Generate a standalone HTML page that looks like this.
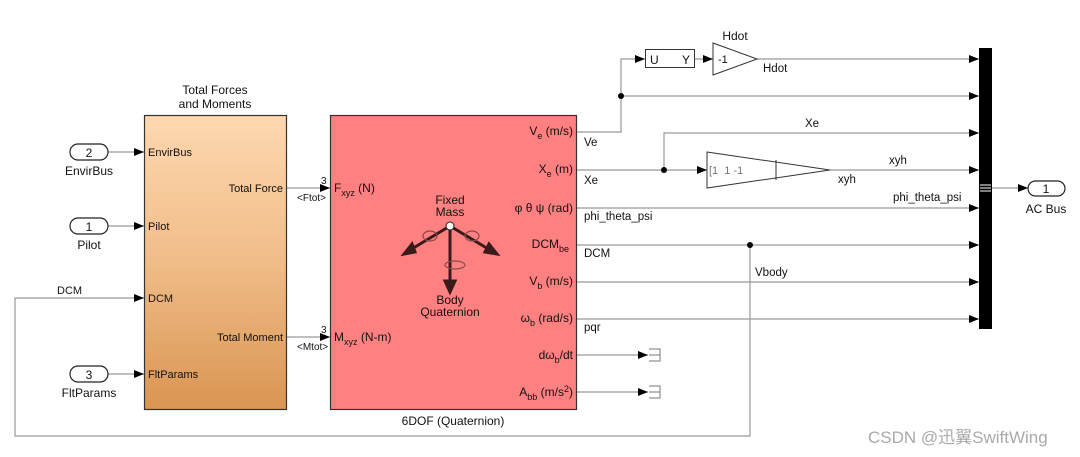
<!DOCTYPE html>
<html><head><meta charset="utf-8"><style>
html,body{margin:0;padding:0;background:#fff;}
svg{display:block;}
text{font-family:"Liberation Sans",Arial,sans-serif;fill:#111;}
</style></head><body>
<svg width="1080" height="457" viewBox="0 0 1080 457" xmlns="http://www.w3.org/2000/svg">
<defs>
<linearGradient id="og" x1="0" y1="0" x2="0" y2="1">
<stop offset="0" stop-color="#fed8b0"/><stop offset="0.5" stop-color="#f0bc88"/><stop offset="1" stop-color="#d99552"/>
</linearGradient>
<marker id="ar" markerWidth="10" markerHeight="8" refX="10" refY="4" orient="auto" markerUnits="userSpaceOnUse">
<path d="M0,0 L10,4 L0,8 z" fill="#000"/></marker>
</defs>
<g stroke="#999" stroke-width="1.2" fill="none">
<line x1="108" y1="152" x2="144" y2="152" marker-end="url(#ar)"/>
<line x1="108" y1="226" x2="144" y2="226" marker-end="url(#ar)"/>
<line x1="108" y1="374" x2="144" y2="374" marker-end="url(#ar)"/>
<polyline points="750,245 750,436 15,436 15,298 144,298" marker-end="url(#ar)"/>
<line x1="287" y1="188" x2="330" y2="188" marker-end="url(#ar)"/>
<line x1="287" y1="337" x2="330" y2="337" marker-end="url(#ar)"/>
<polyline points="577,132 621,132 621,59 645,59" marker-end="url(#ar)"/>
<line x1="695" y1="59" x2="713" y2="59" marker-end="url(#ar)"/>
<line x1="757" y1="59" x2="979" y2="59" marker-end="url(#ar)"/>
<line x1="621" y1="96" x2="979" y2="96" marker-end="url(#ar)"/>
<line x1="577" y1="170" x2="707" y2="170" marker-end="url(#ar)"/>
<polyline points="664,170 664,133 979,133" marker-end="url(#ar)"/>
<line x1="830" y1="170" x2="979" y2="170" marker-end="url(#ar)"/>
<line x1="577" y1="208" x2="979" y2="208" marker-end="url(#ar)"/>
<line x1="577" y1="245" x2="979" y2="245" marker-end="url(#ar)"/>
<line x1="577" y1="282" x2="979" y2="282" marker-end="url(#ar)"/>
<line x1="577" y1="319" x2="979" y2="319" marker-end="url(#ar)"/>
<line x1="577" y1="355" x2="648" y2="355" marker-end="url(#ar)"/>
<line x1="577" y1="392" x2="648" y2="392" marker-end="url(#ar)"/>
<line x1="992" y1="188" x2="1028" y2="188" marker-end="url(#ar)"/>
</g>
<circle cx="621" cy="96" r="3" fill="#000"/>
<circle cx="664" cy="170" r="3" fill="#000"/>
<circle cx="750" cy="245" r="3" fill="#000"/>
<g stroke="#777" fill="none" stroke-width="1">
<path d="M649,349 H660 V361 H649 M649,355 H660"/>
<path d="M649,386 H660 V398 H649 M649,392 H660"/>
</g>
<g stroke="#222" fill="#fff" stroke-width="1.2">
<rect x="70" y="144" width="38" height="16" rx="8"/>
<rect x="70" y="218" width="38" height="16" rx="8"/>
<rect x="70" y="366" width="38" height="16" rx="8"/>
<rect x="1028" y="181" width="37" height="15" rx="7.5"/>
</g>
<g font-size="12" text-anchor="middle">
<text x="89" y="157">2</text><text x="89" y="231">1</text><text x="89" y="379">3</text>
<text x="1046" y="193">1</text>
<text x="89" y="175">EnvirBus</text><text x="89" y="249">Pilot</text><text x="89" y="397">FltParams</text>
<text x="1046" y="213">AC Bus</text>
<text x="215" y="94">Total Forces</text><text x="215" y="108">and Moments</text>
<text x="453" y="425">6DOF (Quaternion)</text>
<text x="735" y="40">Hdot</text>
</g>
<rect x="144.5" y="115.5" width="142" height="294" fill="url(#og)" stroke="#333" stroke-width="1.2"/>
<g font-size="11">
<text x="148" y="156">EnvirBus</text><text x="148" y="230">Pilot</text><text x="148" y="302">DCM</text><text x="148" y="378">FltParams</text>
<text x="283" y="192" text-anchor="end">Total Force</text>
<text x="283" y="341" text-anchor="end">Total Moment</text>
<text x="57" y="294">DCM</text>
<text x="321" y="184" font-size="10">3</text><text x="321" y="333" font-size="10">3</text>
<text x="297" y="201" font-size="10">&lt;Ftot&gt;</text><text x="297" y="350" font-size="10">&lt;Mtot&gt;</text>
</g>
<rect x="330.5" y="115.5" width="246" height="294" fill="#ff8080" stroke="#333" stroke-width="1.2"/>
<g font-size="12">
<text x="334" y="192">F<tspan font-size="9" dy="4">xyz</tspan><tspan dy="-4"> (N)</tspan></text>
<text x="334" y="341">M<tspan font-size="9" dy="4">xyz</tspan><tspan dy="-4"> (N-m)</tspan></text>
<g text-anchor="end">
<text x="573" y="135">V<tspan font-size="9" dy="4">e</tspan><tspan dy="-4"> (m/s)</tspan></text>
<text x="573" y="173">X<tspan font-size="9" dy="4">e</tspan><tspan dy="-4"> (m)</tspan></text>
<text x="573" y="212">φ θ ψ (rad)</text>
<text x="569" y="248">DCM<tspan font-size="9" dy="4">be</tspan></text>
<text x="573" y="285">V<tspan font-size="9" dy="4">b</tspan><tspan dy="-4"> (m/s)</tspan></text>
<text x="573" y="322">ω<tspan font-size="9" dy="4">b</tspan><tspan dy="-4"> (rad/s)</tspan></text>
<text x="573" y="359">dω<tspan font-size="9" dy="4">b</tspan><tspan dy="-4">/dt</tspan></text>
<text x="573" y="396">A<tspan font-size="9" dy="4">bb</tspan><tspan dy="-4"> (m/s</tspan><tspan font-size="9" dy="-4">2</tspan><tspan dy="4">)</tspan></text>
</g>
<g text-anchor="middle">
<text x="450" y="204">Fixed</text><text x="450" y="216">Mass</text>
<text x="450" y="304">Body</text><text x="450" y="316">Quaternion</text>
</g>
</g>
<g stroke="#3a1a1a" stroke-width="3" fill="#3a1a1a">
<line x1="450" y1="226" x2="410" y2="250"/><line x1="450" y1="226" x2="490" y2="250"/><line x1="450" y1="226" x2="450" y2="285"/>
<path d="M404,254 L412,244 L415,252 z"/><path d="M497,254 L485,252 L489,244 z"/><path d="M450,292 L445,281 L455,281 z"/>
</g>
<circle cx="450" cy="226" r="4" fill="#fff" stroke="#222"/>
<g stroke="#8a4a4a" fill="none" stroke-width="1.2">
<ellipse cx="430" cy="236" rx="7" ry="5"/><ellipse cx="472" cy="236" rx="7" ry="5"/><ellipse cx="455" cy="265" rx="10" ry="4"/>
</g>
<g font-size="11.5">
<text x="584" y="146">Ve</text><text x="584" y="184">Xe</text><text x="584" y="220">phi_theta_psi</text>
<text x="584" y="257">DCM</text><text x="584" y="331">pqr</text>
<text x="755" y="276">Vbody</text>
<text x="763" y="72">Hdot</text><text x="805" y="127">Xe</text>
<text x="889" y="164">xyh</text><text x="838" y="183">xyh</text>
<text x="893" y="201">phi_theta_psi</text>
</g>
<rect x="645.5" y="49.5" width="49" height="18" fill="#fff" stroke="#333"/>
<text x="650" y="64" font-size="12">U</text><text x="682" y="64" font-size="12">Y</text>
<polygon points="713,43 757,59 713,75" fill="#fff" stroke="#333"/>
<text x="718" y="63" font-size="11">-1</text>
<polygon points="707,152 830,170 707,188" fill="#fff" stroke="#333"/>
<line x1="776" y1="160" x2="776" y2="180" stroke="#333"/>
<text x="709" y="174" font-size="11" font-family="Liberation Mono" style="fill:#777;white-space:pre">[1  1 -1</text>
<rect x="979" y="48" width="13" height="281" fill="#000"/>
<g stroke="#fff" stroke-width="1"><line x1="980" y1="185" x2="991" y2="185"/><line x1="980" y1="188" x2="991" y2="188"/><line x1="980" y1="191" x2="991" y2="191"/></g>
<text x="868" y="443" font-size="17" style="fill:#aaa" font-family="Liberation Sans, Noto Sans CJK SC, sans-serif">CSDN @迅翼SwiftWing</text>
</svg>
</body></html>
